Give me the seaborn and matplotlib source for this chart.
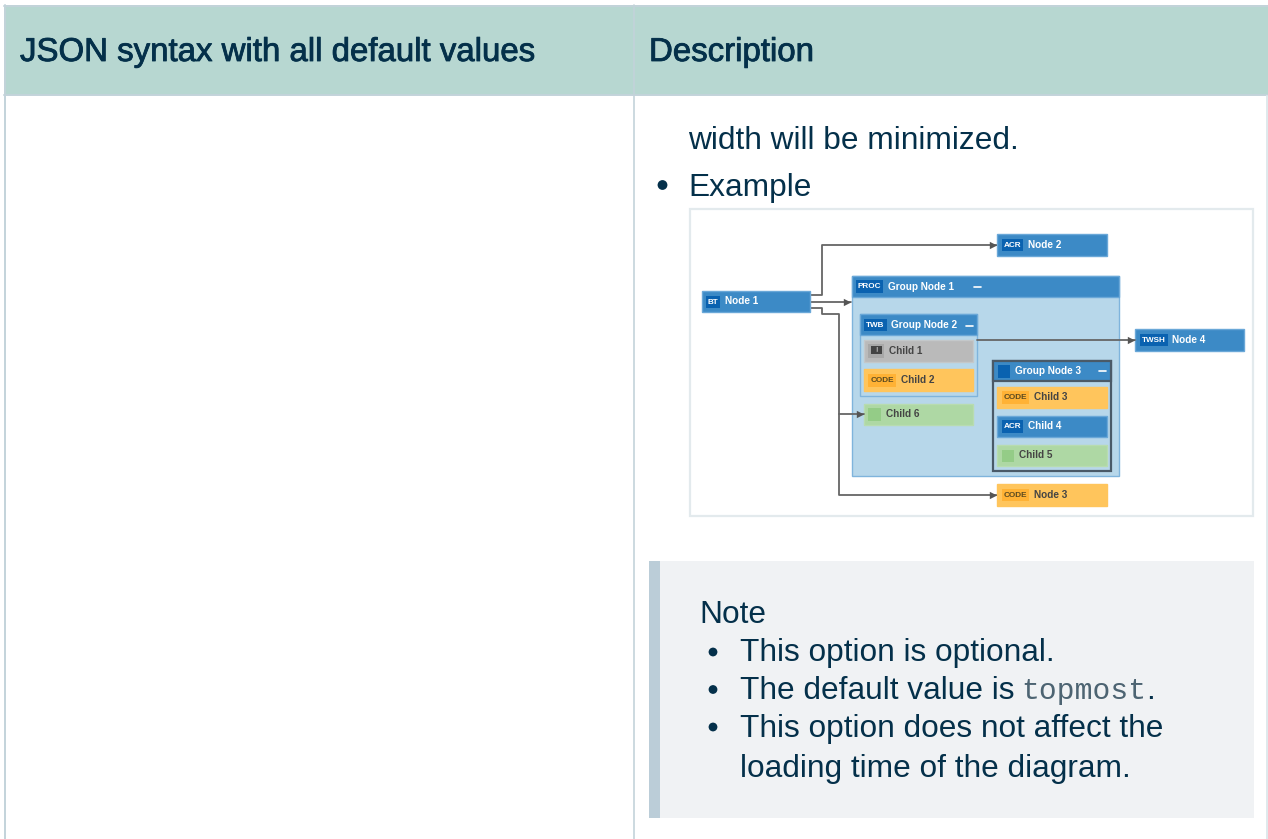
import matplotlib
matplotlib.use("Agg")
import matplotlib.pyplot as plt
import matplotlib.patheffects as pe
from matplotlib.patches import Rectangle
import seaborn as sns
import pandas as pd

# table text
header_labels = ["JSON syntax with all default values", "Description"]
header_x = [20, 649]
body_labels = ["width will be minimized.", "Example"]
body_y = [149, 196]
note_title = "Note"
note_labels = ["This option is optional.", "The default value is ", "This option does not affect the", "loading time of the diagram."]
note_y = [661, 699, 737, 777]
bullet_x = [662.5, 713, 713, 713]
bullet_y = [185, 652, 689.5, 727]
bullet_size = [50, 40, 40, 40]

# diagram boxes, back to front
box_x0 = [701.5, 997, 1135, 997, 851.5, 851.5, 860, 860, 864, 864, 864, 993, 993, 997, 997, 997]
box_x1 = [810, 1107, 1244, 1107, 1119, 1119, 977, 977, 973, 973, 973, 1111, 1111, 1107, 1107, 1107]
box_y0 = [291, 234, 329, 484, 276, 276, 314, 314, 340, 369, 404, 361, 361, 387, 416, 445]
box_y1 = [312, 256, 351, 506, 476, 297, 396, 335, 362, 391, 425, 471, 381, 408, 437, 466]
box_kind = ["blue", "blue", "blue", "orange", "pale", "blue", "pale", "blue", "gray", "orange", "green", "pale3", "blue3", "orange", "blue", "green"]
kind_fill = {"blue": "#3c8ac6", "orange": "#ffc55c", "pale": "#b7d7ea", "gray": "#bababa", "green": "#aed8a4", "pale3": "#b7d7ea", "blue3": "#3c8ac6"}
kind_edge = {"blue": "#6aa8d8", "orange": "#ffc55c", "pale": "#7fb4dc", "gray": "#c4c8ca", "green": "#b8dcb0", "pale3": "#4a5a68", "blue3": "#4a5a68"}

# tags and names inside the boxes
tag_text = ["BT", "ACR", "TWSH", "CODE", "PROC", "TWB", "", "CODE", "", "", "CODE", "ACR", ""]
tag_x0 = [706, 1002, 1140, 1002, 856, 864, 868, 868, 868, 998, 1002, 1002, 1002]
tag_x1 = [720, 1023, 1168, 1029, 883, 887, 884, 896, 881, 1010, 1029, 1023, 1014]
tag_y0 = [296, 239, 334, 489, 280, 319, 344, 374, 408, 365, 391, 420, 450]
tag_y1 = [308, 251, 346, 501, 293, 331, 358, 387, 421, 378, 404, 433, 462]
tag_fill = ["#0a62b0", "#0a62b0", "#0a62b0", "#ffb235", "#0a62b0", "#0a62b0", "#a8a8a8", "#ffb235", "#94cc87", "#0a62b0", "#ffb235", "#0a62b0", "#94cc87"]
node_names = ["Node 1", "Node 2", "Node 4", "Node 3", "Group Node 1", "Group Node 2", "Child 1", "Child 2", "Child 6", "Group Node 3", "Child 3", "Child 4", "Child 5"]
node_x = [725, 1028, 1172, 1034, 888, 891, 889, 901, 886, 1015, 1034, 1028, 1019]
node_y = [301.5, 245, 340, 495, 286.5, 325, 350.5, 380, 414, 371.5, 397, 426, 455.5]
node_color = ["white", "white", "white", "#444444", "white", "white", "#444444", "#444444", "#444444", "white", "#444444", "white", "#444444"]

# collapse signs
minus_x0 = [974, 966, 1099]
minus_x1 = [981, 973, 1106]
minus_y = [287, 326, 371]

# connectors
edge_ids = [0, 0, 0, 0, 1, 1, 2, 2, 2, 2, 2, 2, 3, 3, 4, 4]
edge_x = [810, 822, 822, 997, 810, 851, 810, 822, 822, 839, 839, 997, 839, 864, 977, 1135]
edge_y = [295, 295, 245, 245, 302, 302, 308, 308, 314, 314, 495, 495, 414, 414, 340, 340]
arrow_x = [993, 847, 993, 860, 1131]
arrow_y = [245, 302, 495, 414, 340]

sns.set_theme(style="white")
plt.rcParams["font.family"] = ["Liberation Sans", "DejaVu Sans"]

TEXT = "#04304a"
BORDER = "#c3d3da"
fig = plt.figure(figsize=(12.68, 8.39), dpi=100)
ax = fig.add_axes([0, 0, 1, 1])
ax.set_xlim(0, 1268)
ax.set_ylim(839, 0)
ax.axis("off")


def box(x0, y0, x1, y1, fill, edge="none", lw=0):
    ax.add_patch(Rectangle((x0, y0), x1 - x0, y1 - y0, facecolor=fill, edgecolor=edge, linewidth=lw))


# table
box(4, 5, 1268, 95, "#b7d7d1")
ax.plot([4, 1268], [6, 6], color=BORDER, lw=1.4)
ax.plot([4, 1268], [95, 95], color=BORDER, lw=1.4)
ax.plot([634, 634], [5, 839], color=BORDER, lw=1.2)
ax.plot([5, 5], [5, 839], color=BORDER, lw=1.4)
ax.plot([1267, 1267], [96, 839], color="#dfe9ec", lw=1.4)
for label, x in zip(header_labels, header_x):
    ax.text(x, 61, label, fontsize=23.75, color=TEXT, va="baseline",
            path_effects=[pe.withStroke(linewidth=0.6, foreground=TEXT)])

for label, y in zip(body_labels, body_y):
    ax.text(688.5, y, label, fontsize=22.75, color=TEXT, va="baseline")

# note box
box(649, 561, 1254, 818, "#f0f2f4")
box(649, 561, 660, 818, "#bbcdd8")
ax.text(699, 623, note_title, fontsize=22.75, color=TEXT, va="baseline")
for label, y in zip(note_labels, note_y):
    ax.text(740, y, label, fontsize=22.75, color=TEXT, va="baseline")
ax.text(1021, 699, "topmost", fontsize=21.4, family="Liberation Mono", color="#4d6472", va="baseline")
ax.text(1146, 699, ".", fontsize=22.75, color=TEXT, va="baseline")
sns.scatterplot(x=bullet_x, y=bullet_y, s=bullet_size, size=bullet_size, sizes=(40, 50), color=TEXT, linewidth=0, legend=False, ax=ax)

# diagram frame
box(689.5, 208.5, 1253, 516, "white", "#e3eaed", 1.6)

# connectors first, the boxes sit above them
edges = pd.DataFrame({"id": edge_ids, "x": edge_x, "y": edge_y})
for i, part in edges.groupby("id"):
    sns.lineplot(data=part, x="x", y="y", sort=False, estimator=None, color="#666666", lw=1.3, ax=ax,
                 zorder=3 if i >= 3 else 1)

for x0, x1, y0, y1, kind in zip(box_x0, box_x1, box_y0, box_y1, box_kind):
    lw = 1.6 if kind.endswith("3") else 1.0
    p = Rectangle((x0, y0), x1 - x0, y1 - y0, facecolor=kind_fill[kind], edgecolor=kind_edge[kind], linewidth=lw, zorder=2)
    ax.add_patch(p)

for x0, x1, y0, y1, c, t in zip(tag_x0, tag_x1, tag_y0, tag_y1, tag_fill, tag_text):
    ax.add_patch(Rectangle((x0, y0), x1 - x0, y1 - y0, facecolor=c, edgecolor="none", zorder=3))
    tc = "#5a4a20" if t == "CODE" else "white"
    ax.text((x0 + x1) / 2, (y0 + y1) / 2 + 0.3, t, fontsize=5.9, fontweight="bold", color=tc, ha="center", va="center", zorder=4)

# warning icon on Child 1
ax.add_patch(Rectangle((871, 346), 11, 8, facecolor="#444444", edgecolor="none", zorder=4))
ax.text(876.5, 350, "!", fontsize=5.5, fontweight="bold", color="#bbbbbb", ha="center", va="center", zorder=5)

for name, x, y, c in zip(node_names, node_x, node_y, node_color):
    ax.text(x, y, name, fontsize=7.2, fontweight="bold", color=c, va="center", zorder=4)

for x0, x1, y in zip(minus_x0, minus_x1, minus_y):
    ax.plot([x0, x1], [y, y], color="white", lw=1.2, zorder=4)

sns.scatterplot(x=arrow_x, y=arrow_y, marker=">", s=28, color="#555555", linewidth=0, ax=ax, zorder=5)

ax.set_xlim(0, 1268)
ax.set_ylim(839, 0)
ax.axis("off")
fig.savefig("out.png", dpi=100, facecolor="white")
